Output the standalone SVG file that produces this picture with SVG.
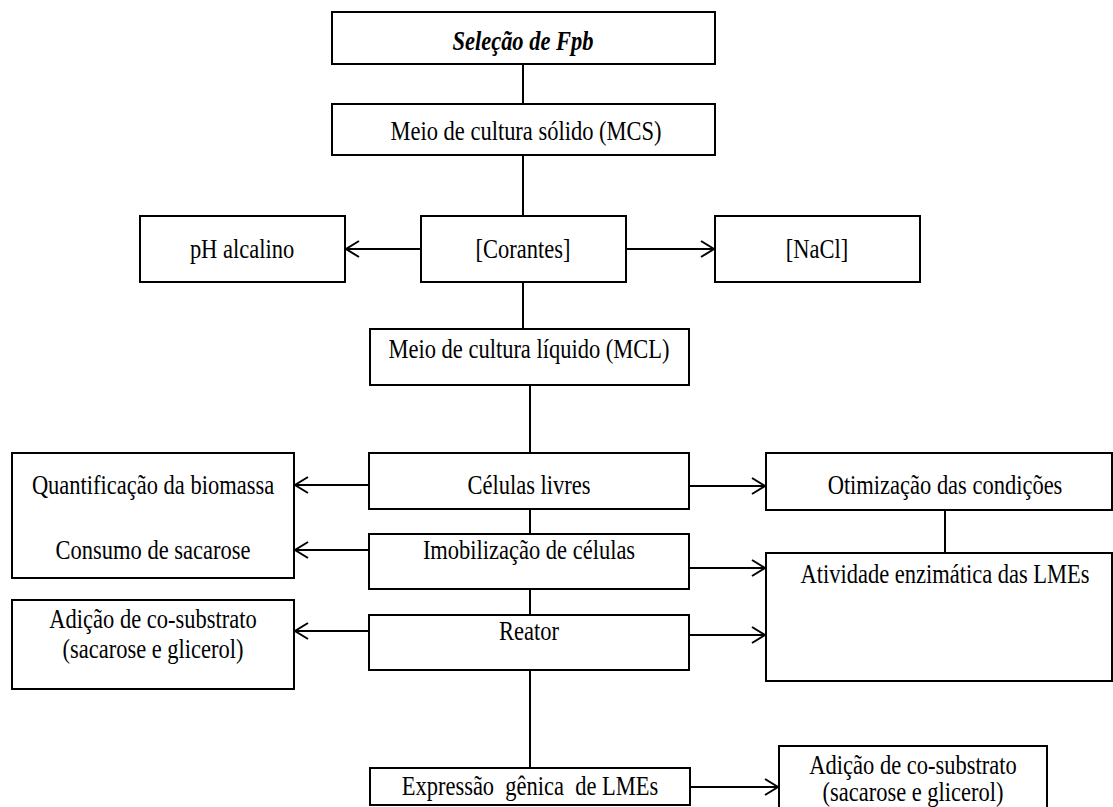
<svg xmlns="http://www.w3.org/2000/svg" width="1113" height="807" viewBox="0 0 1113 807">
<defs>
<marker id="arr" markerWidth="16" markerHeight="18" refX="14" refY="9" orient="auto" markerUnits="userSpaceOnUse">
<path d="M1,1 L14,9 L1,17" fill="none" stroke="#000" stroke-width="2"/>
</marker>
<style>
.box{fill:#fff;stroke:#000;stroke-width:2}
.t{font-family:"Liberation Serif","Times New Roman",serif;font-size:22.5px;fill:#000;text-anchor:middle}
.ln{stroke:#000;stroke-width:2;fill:none}
.ar{stroke:#000;stroke-width:2;fill:none;marker-end:url(#arr)}
</style>
</defs>
<rect width="1113" height="807" fill="#fff"/>
<g id="connectors">
<line class="ln" x1="523" y1="64" x2="523" y2="104"/>
<line class="ln" x1="523" y1="155" x2="523" y2="216"/>
<line class="ln" x1="523" y1="282" x2="523" y2="329"/>
<line class="ar" x1="421" y1="249" x2="346" y2="249"/>
<line class="ar" x1="626" y1="249" x2="714" y2="249"/>
<line class="ln" x1="530" y1="385" x2="530" y2="453"/>
<line class="ln" x1="530" y1="509" x2="530" y2="534"/>
<line class="ln" x1="530" y1="589" x2="530" y2="615"/>
<line class="ln" x1="530" y1="670" x2="530" y2="768"/>
<line class="ar" x1="369" y1="485" x2="295" y2="485"/>
<line class="ar" x1="369" y1="550" x2="295" y2="550"/>
<line class="ar" x1="369" y1="631" x2="295" y2="631"/>
<line class="ar" x1="689" y1="486" x2="765" y2="486"/>
<line class="ar" x1="689" y1="568" x2="765" y2="568"/>
<line class="ar" x1="689" y1="635" x2="765" y2="635"/>
<line class="ln" x1="945" y1="510" x2="945" y2="553"/>
<line class="ar" x1="690" y1="787" x2="778" y2="787"/>
</g>
<g id="n-selecao"><rect class="box" x="332" y="12" width="383" height="52"/><text class="t" transform="translate(523,50) scale(1,1.22)" font-weight="bold" font-style="italic">Seleção de Fpb</text></g>
<g id="n-mcs"><rect class="box" x="332" y="104" width="383" height="51"/><text class="t" transform="translate(526,140) scale(1,1.22)">Meio de cultura sólido (MCS)</text></g>
<g id="n-ph"><rect class="box" x="140" y="216" width="205" height="66"/><text class="t" transform="translate(242,258) scale(1,1.22)">pH alcalino</text></g>
<g id="n-corantes"><rect class="box" x="421" y="216" width="205" height="66"/><text class="t" transform="translate(523,258) scale(1,1.22)">[Corantes]</text></g>
<g id="n-nacl"><rect class="box" x="715" y="216" width="205" height="66"/><text class="t" transform="translate(817,258) scale(1,1.22)">[NaCl]</text></g>
<g id="n-mcl"><rect class="box" x="370" y="329" width="319" height="56"/><text class="t" transform="translate(529,358) scale(1,1.22)">Meio de cultura líquido (MCL)</text></g>
<g id="n-quant"><rect class="box" x="12" y="453" width="282" height="125"/><text class="t" transform="translate(153,494) scale(1,1.22)">Quantificação da biomassa</text><text class="t" transform="translate(153,559) scale(1,1.22)">Consumo de sacarose</text></g>
<g id="n-celulas"><rect class="box" x="369" y="453" width="320" height="56"/><text class="t" transform="translate(529,494) scale(1,1.22)">Células livres</text></g>
<g id="n-otim"><rect class="box" x="766" y="453" width="346" height="57"/><text class="t" transform="translate(945,494) scale(1,1.22)">Otimização das condições</text></g>
<g id="n-imob"><rect class="box" x="369" y="534" width="320" height="55"/><text class="t" transform="translate(529,559) scale(1,1.22)">Imobilização de células</text></g>
<g id="n-ativ"><rect class="box" x="766" y="553" width="346" height="128"/><text class="t" transform="translate(945,583) scale(1,1.22)">Atividade enzimática das LMEs</text></g>
<g id="n-adicao1"><rect class="box" x="12" y="600" width="282" height="89"/><text class="t" transform="translate(153,628) scale(1,1.22)">Adição de co-substrato</text><text class="t" transform="translate(153,658) scale(1,1.22)">(sacarose e glicerol)</text></g>
<g id="n-reator"><rect class="box" x="369" y="615" width="320" height="55"/><text class="t" transform="translate(529,640) scale(1,1.22)">Reator</text></g>
<g id="n-expr"><rect class="box" x="370" y="768" width="320" height="37"/><text class="t" transform="translate(530,795) scale(1,1.22)" xml:space="preserve">Expressão  gênica  de LMEs</text></g>
<g id="n-adicao2"><rect class="box" x="779" y="746" width="268" height="70"/><text class="t" transform="translate(913,774) scale(1,1.22)">Adição de co-substrato</text><text class="t" transform="translate(913,801) scale(1,1.22)">(sacarose e glicerol)</text></g>
</svg>
